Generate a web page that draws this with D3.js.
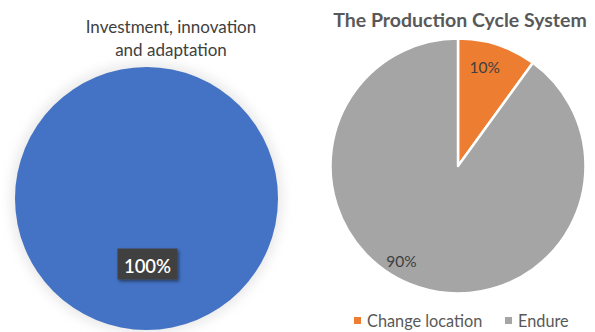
<!DOCTYPE html>
<html>
<head>
<meta charset="utf-8">
<script src="https://cdn.jsdelivr.net/npm/d3@7"></script>
<style>
  html, body { margin: 0; padding: 0; background: #fff; }
  svg { display: block; font-family: Lato, "Open Sans", sans-serif; }
</style>
</head>
<body>
<svg id="chart" width="595" height="332"></svg>
<script>
// Left pie: a single category
const leftCategories = ["Investment, innovation and adaptation"];
const leftValues = [100];
const leftTitle = ["Investment, innovation", "and adaptation"];

// Right pie: production cycle choices
const rightCategories = ["Change location", "Endure"];
const rightValues = [10, 90];
const rightTitle = "The Production Cycle System";

const svg = d3.select("#chart");
const defs = svg.append("defs");

defs.append("filter").attr("id", "glow")
  .attr("x", "-20%").attr("y", "-20%").attr("width", "140%").attr("height", "140%")
  .append("feGaussianBlur").attr("stdDeviation", 6);

const boxShadow = defs.append("filter").attr("id", "boxShadow")
  .attr("x", "-20%").attr("y", "-30%").attr("width", "150%").attr("height", "170%");
boxShadow.append("feDropShadow").attr("dx", 1.5).attr("dy", 2).attr("stdDeviation", 1.5)
  .attr("flood-color", "#000").attr("flood-opacity", 0.45);

const pctFormat = (d, total) => Math.round(d / total * 100) + "%";

// ---------- Left pie ----------
{
  const cx = 146.5, cy = 198.5, r = 131.5;
  const color = d3.scaleOrdinal().domain(leftCategories).range(["#4472C4"]);
  const pie = d3.pie().sort(null).value(d => d);
  const arc = d3.arc().innerRadius(0).outerRadius(r);
  const g = svg.append("g").attr("transform", `translate(${cx},${cy})`);
  const total = d3.sum(leftValues);

  // soft halo round the disc
  g.append("circle").attr("r", r + 4).attr("fill", "#d9d9d9").attr("opacity", 0.6)
    .attr("filter", "url(#glow)");

  const arcs = pie(leftValues);
  g.selectAll("path.slice").data(arcs).join("path")
    .attr("class", "slice")
    .attr("d", arc)
    .attr("fill", (d, i) => color(leftCategories[i]));

  // value label in a dark callout box, placed in the lower part of the disc
  const labelY = 69;
  const lbl = g.append("g").attr("transform", `translate(0,${labelY})`);
  lbl.append("rect").attr("x", -29).attr("y", -19).attr("width", 60).attr("height", 31)
    .attr("fill", "#404040").attr("filter", "url(#boxShadow)");
  lbl.append("text").attr("text-anchor", "middle").attr("x", 1).attr("y", 5)
    .attr("fill", "#ffffff").attr("font-size", 18.5).attr("font-weight", 600)
    .text(pctFormat(leftValues[0], total));

  svg.append("text").attr("x", 171).attr("y", 33).attr("text-anchor", "middle")
    .attr("fill", "#404040").attr("font-size", 17)
    .selectAll("tspan").data(leftTitle).join("tspan")
    .attr("x", 171).attr("dy", (d, i) => i === 0 ? 0 : 23).text(d => d);
}

// ---------- Right pie ----------
{
  const cx = 458, cy = 166, r = 127.5;
  const color = d3.scaleOrdinal().domain(rightCategories).range(["#ED7D31", "#A5A5A5"]);
  const pie = d3.pie().sort(null).value(d => d);
  const arc = d3.arc().innerRadius(0).outerRadius(r);
  const g = svg.append("g").attr("transform", `translate(${cx},${cy})`);
  const total = d3.sum(rightValues);
  const arcs = pie(rightValues);

  g.selectAll("path.slice").data(arcs).join("path")
    .attr("class", "slice")
    .attr("d", arc)
    .attr("fill", (d, i) => color(rightCategories[i]))
    .attr("stroke", "#fff").attr("stroke-width", 2.5).attr("stroke-linejoin", "round");

  // label placement: radius as a share of r, and a small angular nudge (radians)
  const labelPlace = [{ k: 0.80, da: -0.05 }, { k: 0.87, da: 0.22 }];
  const labelPos = (d, i) => {
    const p = labelPlace[i];
    const a = (d.startAngle + d.endAngle) / 2 + p.da;
    const rr = r * p.k;
    return [Math.sin(a) * rr, -Math.cos(a) * rr];
  };

  g.selectAll("text.val").data(arcs).join("text")
    .attr("class", "val")
    .attr("transform", (d, i) => `translate(${labelPos(d, i)})`)
    .attr("text-anchor", "middle").attr("dy", "0.35em")
    .attr("fill", "#404040").attr("font-size", 15.5)
    .text(d => pctFormat(d.data, total));

  svg.append("text").attr("x", 460).attr("y", 27).attr("text-anchor", "middle")
    .attr("fill", "#595959").attr("font-size", 19.5).attr("font-weight", 700)
    .text(rightTitle);

  // legend
  const legendX = [354, 505];
  const leg = svg.append("g");
  const items = leg.selectAll("g").data(rightCategories).join("g")
    .attr("transform", (d, i) => `translate(${legendX[i]},321)`);
  items.append("rect").attr("x", 0).attr("y", -4).attr("width", 7).attr("height", 7)
    .attr("fill", d => color(d));
  items.append("text").attr("x", 13).attr("y", 0).attr("dy", "0.35em")
    .attr("fill", "#595959").attr("font-size", 16.3)
    .text(d => d);
}
</script>
</body>
</html>
